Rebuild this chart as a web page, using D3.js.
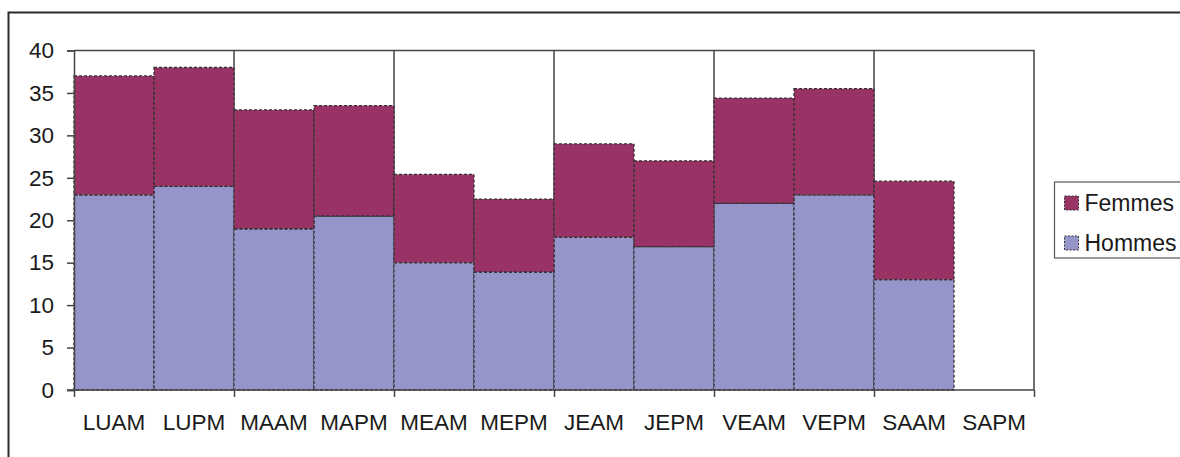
<!DOCTYPE html>
<html>
<head>
<meta charset="utf-8">
<script src="https://cdn.jsdelivr.net/npm/d3@7"></script>
<style>
  body { margin: 0; background: #fff; }
  svg text { font-family: "Liberation Sans", Arial, sans-serif; fill: #1a1a1a; }
</style>
</head>
<body>
<script>
// Data
var categories = ["LUAM", "LUPM", "MAAM", "MAPM", "MEAM", "MEPM", "JEAM", "JEPM", "VEAM", "VEPM", "SAAM", "SAPM"];
var hommes = [23, 24, 19, 20.5, 15, 13.9, 18, 16.9, 22, 23, 13, 0];
var femmes = [14, 14, 14, 13, 10.4, 8.6, 11, 10.1, 12.4, 12.5, 11.6, 0];
var seriesNames = ["Hommes", "Femmes"];
var yTicks = [0, 5, 10, 15, 20, 25, 30, 35, 40];

var colors = { "Hommes": "#9595C9", "Femmes": "#993366" };

// Build rows for d3.stack
var rows = categories.map(function(c, i) {
    return { cat: c, Hommes: hommes[i], Femmes: femmes[i] };
});

var width = 1180, height = 457;
var plotLeft = 74, plotRight = 1034, plotTop = 50.5, plotBottom = 390;

var svg = d3.select("body").append("svg")
    .attr("width", width)
    .attr("height", height);

// outer chart frame (runs off the right and bottom of the picture)
svg.append("rect")
    .attr("x", 8.5).attr("y", 12.5)
    .attr("width", 1300).attr("height", 600)
    .attr("fill", "none")
    .attr("stroke", "#2a2a2a")
    .attr("stroke-width", 2);

var xScale = d3.scaleBand().domain(categories).range([plotLeft, plotRight]).padding(0);
var xEdge = d3.scaleLinear().domain([0, categories.length]).range([plotLeft, plotRight]);
var yScale = d3.scaleLinear().domain([0, 40]).range([plotBottom, plotTop]);

// vertical gridlines every two categories
svg.append("g").selectAll("line")
    .data([2, 4, 6, 8, 10])
    .enter().append("line")
    .attr("x1", function(d) { return xEdge(d); })
    .attr("x2", function(d) { return xEdge(d); })
    .attr("y1", plotTop).attr("y2", plotBottom)
    .attr("stroke", "#444").attr("stroke-width", 1.5);

// plot area top / right border
svg.append("path")
    .attr("d", "M" + plotLeft + "," + plotTop + "H" + plotRight + "V" + plotBottom)
    .attr("fill", "none")
    .attr("stroke", "#444").attr("stroke-width", 1.5);

// stacked bars
var stacked = d3.stack().keys(seriesNames)(rows);
svg.append("g").selectAll("g")
    .data(stacked)
    .enter().append("g")
    .attr("fill", function(d) { return colors[d.key]; })
    .selectAll("rect")
    .data(function(d) { return d.filter(function(p) { return p[1] > p[0]; }); })
    .enter().append("rect")
    .attr("x", function(d) { return xScale(d.data.cat); })
    .attr("y", function(d) { return yScale(d[1]); })
    .attr("width", xScale.bandwidth())
    .attr("height", function(d) { return yScale(d[0]) - yScale(d[1]); })
    .attr("stroke", "#333")
    .attr("stroke-width", 1.3)
    .attr("stroke-dasharray", "3,2");

// y axis
var yAxis = d3.axisLeft(yScale).tickValues(yTicks).tickSize(7).tickPadding(13);
var gy = svg.append("g")
    .attr("transform", "translate(" + plotLeft + ",0)")
    .call(yAxis);
gy.selectAll("text").attr("font-size", "22.5px").attr("fill", "#1a1a1a");

// x axis: boundary ticks every two categories
var xTickAxis = d3.axisBottom(xEdge).tickValues([0, 2, 4, 6, 8, 10, 12])
    .tickSize(7).tickFormat("");
var gx = svg.append("g")
    .attr("transform", "translate(0," + plotBottom + ")")
    .call(xTickAxis);

// x axis labels
var xLabelAxis = d3.axisBottom(xScale).tickSize(0).tickPadding(24);
var gxl = svg.append("g")
    .attr("transform", "translate(0," + plotBottom + ")")
    .call(xLabelAxis);
gxl.select(".domain").remove();
gxl.selectAll("text").attr("font-size", "22.5px").attr("fill", "#1a1a1a");

[gy, gx].forEach(function(g) {
    g.selectAll("line, path").attr("stroke", "#444").attr("stroke-width", 1.5);
});
gx.select(".domain").remove();

// axis line extending past the y axis like the original
svg.append("line")
    .attr("x1", plotLeft - 7).attr("x2", plotRight)
    .attr("y1", plotBottom).attr("y2", plotBottom)
    .attr("stroke", "#444").attr("stroke-width", 1.5);

// legend
var legend = svg.append("g").attr("transform", "translate(1054.5,182)");
legend.append("rect")
    .attr("width", 160).attr("height", 76)
    .attr("fill", "#fff")
    .attr("stroke", "#555").attr("stroke-width", 1.2);
var legendItems = ["Femmes", "Hommes"];
legendItems.forEach(function(name, i) {
    var g = legend.append("g").attr("transform", "translate(10," + (14 + i * 40) + ")");
    g.append("rect")
        .attr("width", 14).attr("height", 14)
        .attr("fill", colors[name])
        .attr("stroke", "#333").attr("stroke-width", 1)
        .attr("stroke-dasharray", "2,1.5");
    g.append("text")
        .attr("x", 20).attr("y", 15)
        .attr("font-size", "23px")
        .text(name);
});
</script>
</body>
</html>
